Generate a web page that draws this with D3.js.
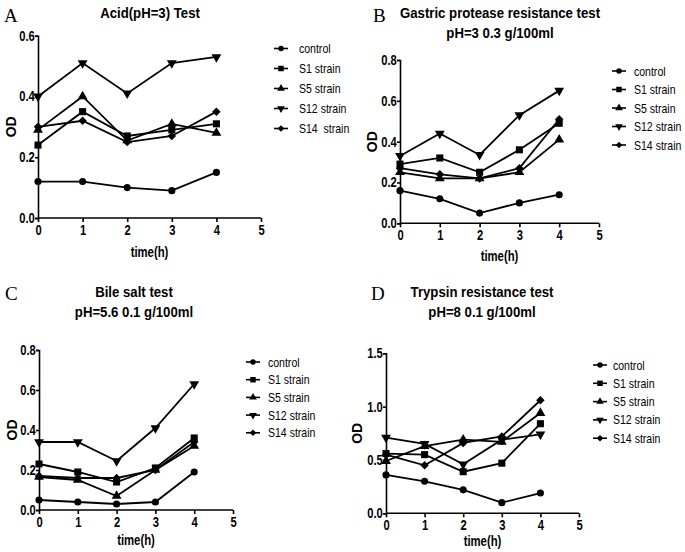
<!DOCTYPE html>
<html><head><meta charset="utf-8">
<script src="https://cdn.jsdelivr.net/npm/d3@7"></script>
<style>
html,body{margin:0;padding:0;background:#fff;}
svg{display:block;}
text{fill:#000;}
</style></head>
<body>
<svg id="chart" width="685" height="552"></svg>
<script>
// ---------- data ----------
const timeHours = [0, 1, 2, 3, 4];
const xTickValues = [0, 1, 2, 3, 4, 5];
const seriesNamesA = ["control", "S1 strain", "S5 strain", "S12 strain", "S14  strain"];
const seriesNames = ["control", "S1 strain", "S5 strain", "S12 strain", "S14 strain"];

// A: Acid (pH=3)
const acidControl = [0.12, 0.12, 0.10, 0.09, 0.15];
const acidS1      = [0.24, 0.35, 0.27, 0.29, 0.31];
const acidS5      = [0.29, 0.40, 0.255, 0.31, 0.28];
const acidS12     = [0.40, 0.51, 0.41, 0.51, 0.53];
const acidS14     = [0.30, 0.32, 0.25, 0.27, 0.35];
const acidYTicks  = [0.0, 0.2, 0.4, 0.6];

// B: Gastric protease
const gastricControl = [0.16, 0.12, 0.05, 0.10, 0.14];
const gastricS1      = [0.29, 0.32, 0.25, 0.36, 0.49];
const gastricS5      = [0.25, 0.22, 0.22, 0.25, 0.41];
const gastricS12     = [0.33, 0.44, 0.335, 0.53, 0.65];
const gastricS14     = [0.27, 0.24, 0.22, 0.27, 0.51];
const gastricYTicks  = [0.0, 0.2, 0.4, 0.6, 0.8];

// C: Bile salt
const bileControl = [0.05, 0.04, 0.03, 0.04, 0.19];
const bileS1      = [0.23, 0.19, 0.14, 0.21, 0.36];
const bileS5      = [0.165, 0.15, 0.07, 0.20, 0.32];
const bileS12     = [0.34, 0.34, 0.245, 0.41, 0.63];
const bileS14     = [0.17, 0.16, 0.16, 0.20, 0.34];
const bileYTicks  = [0.0, 0.2, 0.4, 0.6, 0.8];

// D: Trypsin
const trypsinControl = [0.36, 0.30, 0.22, 0.10, 0.19];
const trypsinS1      = [0.56, 0.55, 0.39, 0.47, 0.84];
const trypsinS5      = [0.49, 0.63, 0.69, 0.67, 0.94];
const trypsinS12     = [0.71, 0.65, 0.46, 0.69, 0.74];
const trypsinS14     = [0.55, 0.45, 0.66, 0.72, 1.06];
const trypsinYTicks  = [0.0, 0.5, 1.0, 1.5];

// ---------- drawing ----------
const svg = d3.select("#chart");
const SANS = "'Liberation Sans',Arial,sans-serif";
const markerKinds = ["circle", "square", "triUp", "triDown", "diamond"];

function symbolPath(kind, scale) {
  const s = scale || 1;
  if (kind === "circle") return d3.symbol(d3.symbolCircle, 40 * s)();
  if (kind === "square") return d3.symbol(d3.symbolSquare, 50 * s)();
  if (kind === "triUp" || kind === "triDown") return d3.symbol(d3.symbolTriangle, 42 * s)();
  return d3.symbol(d3.symbolSquare, 36 * s)();
}
function symbolRotate(kind) {
  if (kind === "triDown") return 180;
  if (kind === "diamond") return 45;
  return 0;
}
function addText(sel, x, y, str, o) {
  return sel.append("text")
    .attr("transform", `translate(${x},${y}) scale(${o.sx || 1},1)`)
    .attr("text-anchor", o.anchor || "start")
    .attr("dy", o.dy || null)
    .attr("font-family", SANS)
    .attr("font-weight", o.weight || "normal")
    .attr("font-size", o.size)
    .style("white-space", "pre")
    .text(str);
}

const panels = [
  { letter: "A", letterX: 4, letterY: 22, titles: ["Acid(pH=3) Test"], titleX: 150, titleY: 18,
    left: 38, right: 261, top: 35.7, bottom: 218, yMax: 0.6, yTicks: acidYTicks,
    series: [acidControl, acidS1, acidS5, acidS12, acidS14], names: seriesNamesA,
    legX: 281, legTextX: 299, legY: 48.5, legDy: 20, odX: 11, timeY: 257 },
  { letter: "B", letterX: 373, letterY: 22, titles: ["Gastric protease resistance test", "pH=3 0.3 g/100ml"], titleX: 500, titleY: 18,
    left: 400, right: 599, top: 60, bottom: 223.3, yMax: 0.8, yTicks: gastricYTicks,
    series: [gastricControl, gastricS1, gastricS5, gastricS12, gastricS14], names: seriesNames,
    legX: 619, legTextX: 634, legY: 71, legDy: 18.5, odX: 372, timeY: 261 },
  { letter: "C", letterX: 5, letterY: 300, titles: ["Bile salt test", "pH=5.6 0.1 g/100ml"], titleX: 134, titleY: 297,
    left: 39, right: 233, top: 350, bottom: 510, yMax: 0.8, yTicks: bileYTicks,
    series: [bileControl, bileS1, bileS5, bileS12, bileS14], names: seriesNames,
    legX: 253, legTextX: 268, legY: 362, legDy: 17.7, odX: 12, timeY: 545 },
  { letter: "D", letterX: 371, letterY: 300, titles: ["Trypsin resistance test", "pH=8 0.1 g/100ml"], titleX: 482, titleY: 297,
    left: 386, right: 579, top: 353.3, bottom: 513.3, yMax: 1.5, yTicks: trypsinYTicks,
    series: [trypsinControl, trypsinS1, trypsinS5, trypsinS12, trypsinS14], names: seriesNames,
    legX: 600, legTextX: 613, legY: 365, legDy: 18.3, odX: 357, timeY: 546 }
];

panels.forEach(p => {
  const g = svg.append("g");
  const x = d3.scaleLinear().domain([0, 5]).range([p.left, p.right]);
  const y = d3.scaleLinear().domain([0, p.yMax]).range([p.bottom, p.top]);

  // panel letter
  g.append("text").attr("x", p.letterX).attr("y", p.letterY)
    .attr("font-family", "'Liberation Serif','Times New Roman',serif")
    .attr("font-size", 19).text(p.letter);

  // titles
  p.titles.forEach((t, i) => {
    addText(g, p.titleX, p.titleY + i * 20, t, { size: 15, weight: "bold", anchor: "middle", sx: 0.88 });
  });

  // axes
  const xAxis = d3.axisBottom(x).tickValues(xTickValues).tickFormat(d3.format("d"))
    .tickSizeOuter(0).tickSize(4).tickPadding(3);
  const yAxis = d3.axisLeft(y).tickValues(p.yTicks).tickFormat(d3.format(".1f"))
    .tickSizeOuter(0).tickSize(3).tickPadding(1);
  const gx = g.append("g").attr("transform", `translate(0,${p.bottom})`).call(xAxis);
  const gy = g.append("g").attr("transform", `translate(${p.left},0)`).call(yAxis);
  [gx, gy].forEach(ax => {
    ax.select(".domain").attr("stroke", "#000").attr("stroke-width", 1.6);
    ax.selectAll(".tick line").attr("stroke", "#000").attr("stroke-width", 1.6);
    ax.selectAll(".tick text").attr("font-family", SANS).attr("font-weight", "bold")
      .attr("font-size", 14).attr("fill", "#000").attr("transform", "scale(0.8,1)");
  });
  gx.select(".domain").attr("d", `M${p.left},0H${p.right}`);

  // axis titles
  g.append("text").attr("transform", `translate(${p.odX},${(p.top + p.bottom) / 2}) rotate(-90)`)
    .attr("text-anchor", "middle").attr("dy", "0.35em")
    .attr("font-family", SANS).attr("font-weight", "bold").attr("font-size", 14).text("OD");
  addText(g, (p.left + p.right) / 2, p.timeY, "time(h)", { size: 14, weight: "bold", anchor: "middle", sx: 0.81 });

  // lines + markers
  const line = d3.line().x((d, i) => x(timeHours[i])).y(d => y(d));
  p.series.forEach((vals, si) => {
    g.append("path").datum(vals).attr("d", line)
      .attr("fill", "none").attr("stroke", "#000").attr("stroke-width", 1.8);
    const kind = markerKinds[si];
    g.selectAll(null).data(vals).enter().append("path")
      .attr("d", symbolPath(kind))
      .attr("transform", (d, i) => `translate(${x(timeHours[i])},${y(d)}) rotate(${symbolRotate(kind)})`)
      .attr("fill", "#000");
  });

  // legend
  p.names.forEach((name, si) => {
    const ly = p.legY + si * p.legDy;
    const kind = markerKinds[si];
    g.append("line").attr("x1", p.legX - 7).attr("x2", p.legX + 7).attr("y1", ly).attr("y2", ly)
      .attr("stroke", "#000").attr("stroke-width", 1.6);
    g.append("path").attr("d", symbolPath(kind, 0.6))
      .attr("transform", `translate(${p.legX},${ly}) rotate(${symbolRotate(kind)})`).attr("fill", "#000");
    addText(g, p.legTextX, ly, name, { size: 13, dy: "0.35em", sx: 0.81 });
  });
});
</script>
</body></html>
